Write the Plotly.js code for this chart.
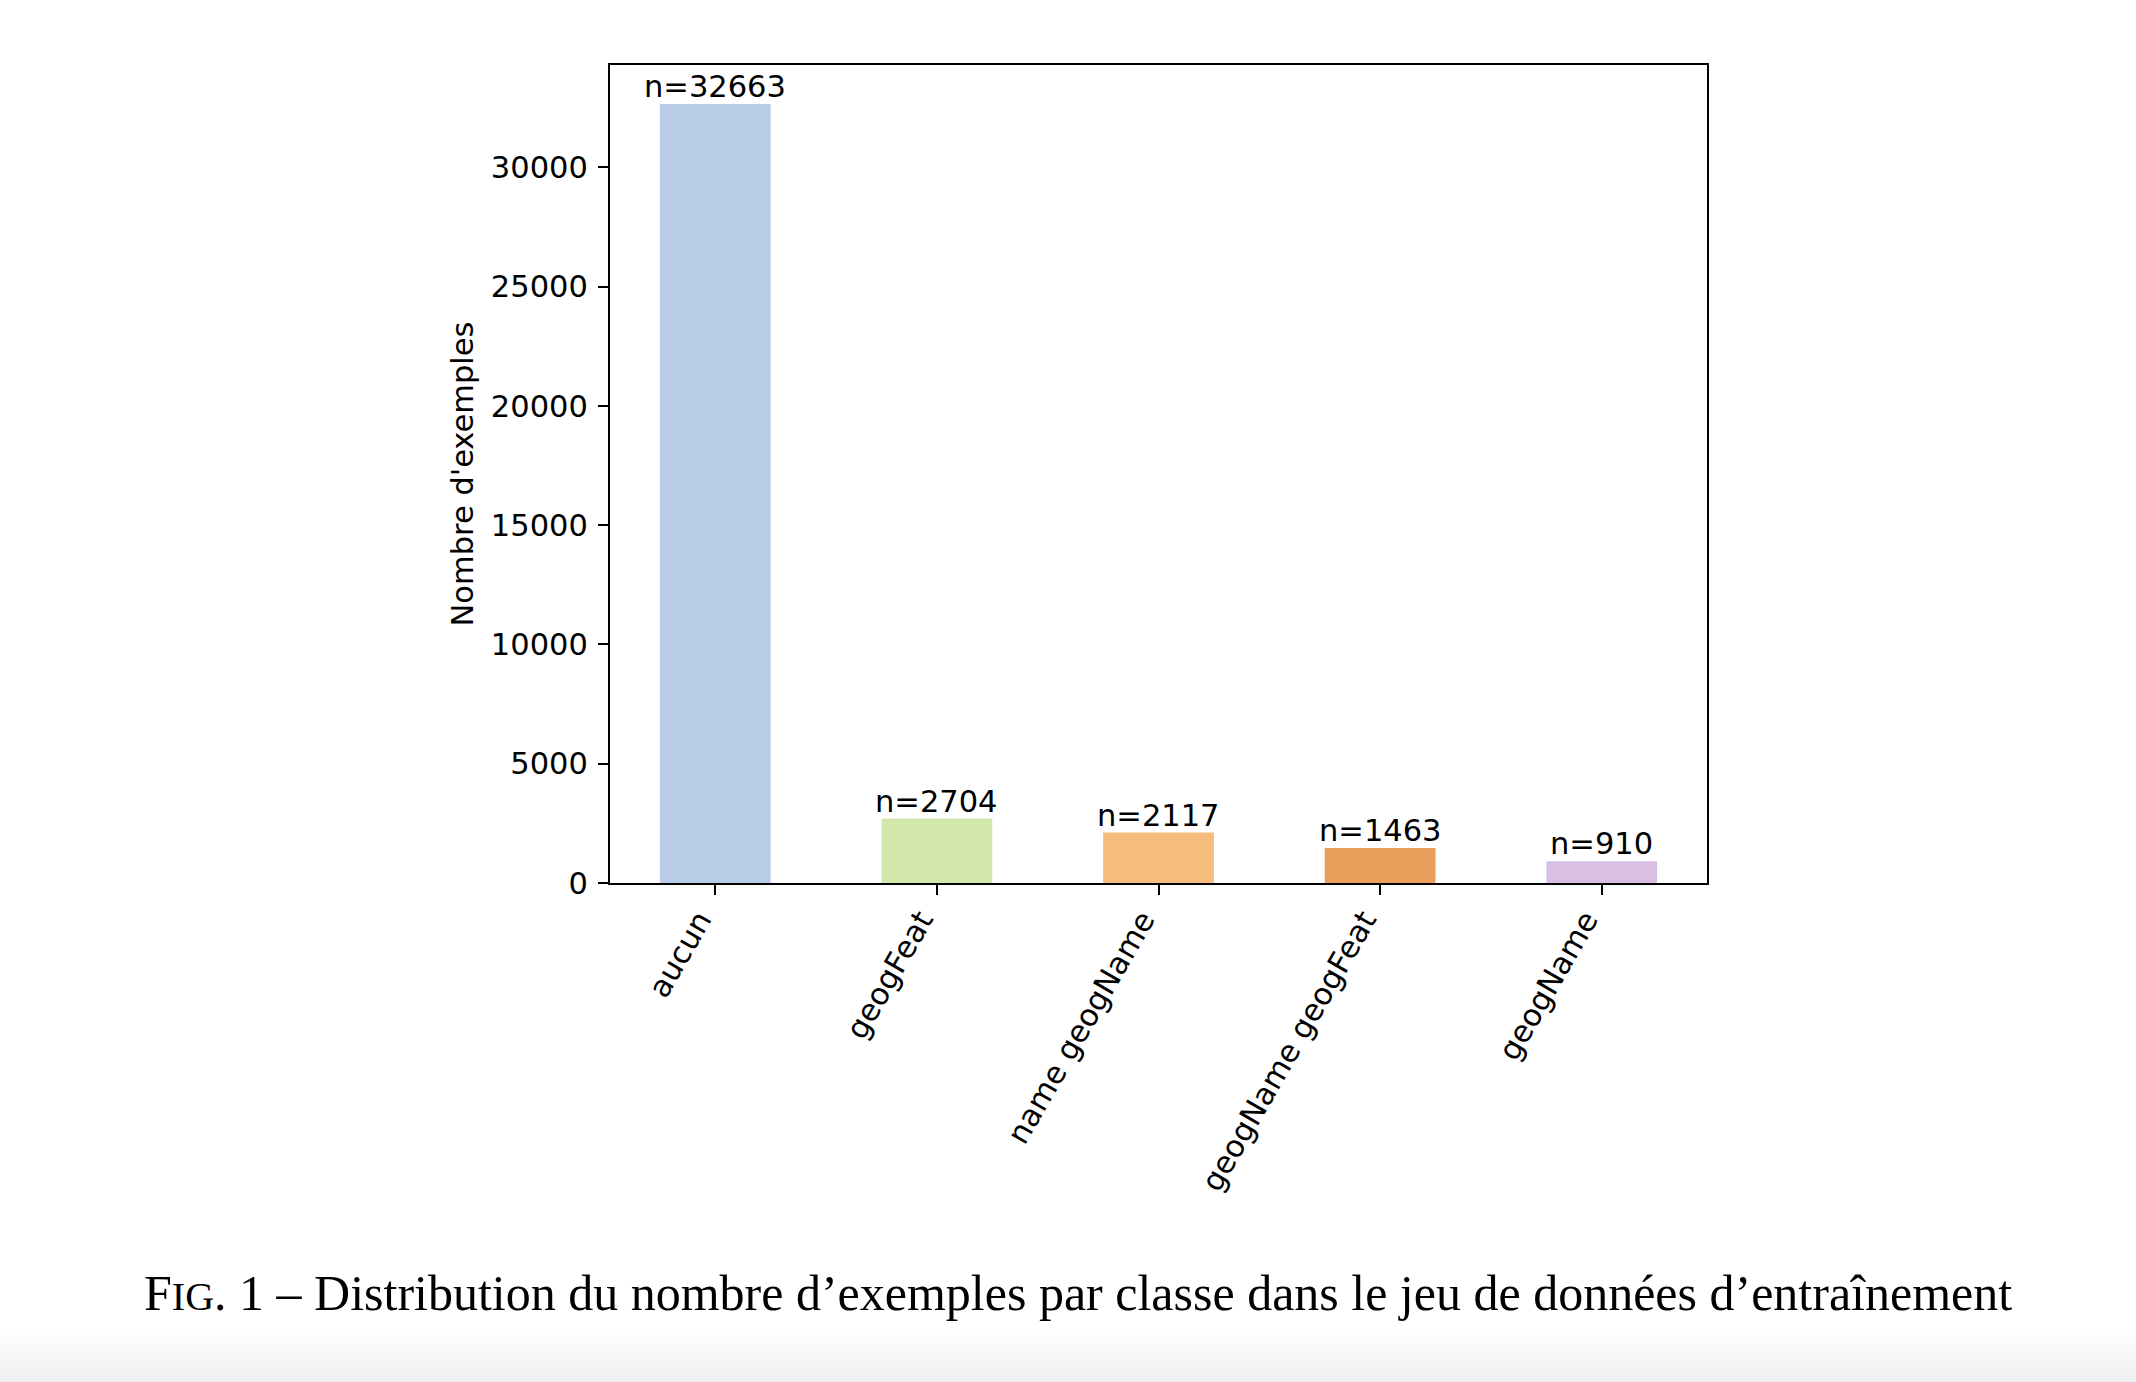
<!DOCTYPE html>
<html>
<head>
<meta charset="utf-8">
<script src="https://cdn.plot.ly/plotly-3.0.1.min.js"></script>
<style>
  html, body { margin: 0; padding: 0; }
  body { width: 2136px; height: 1382px; background: linear-gradient(to bottom, #ffffff 0px, #ffffff 1330px, #efefef 1382px); }
  #chart { width: 2136px; height: 1382px; }
</style>
</head>
<body>
<div id="chart"></div>
<script>
const categories = ["aucun", "geogFeat", "name geogName", "geogName geogFeat", "geogName"];
const counts = [32663, 2704, 2117, 1463, 910];
const barColors = ["#bacde8", "#d1e7a9", "#f6bd7f", "#e99e59", "#d9bfe4"];
const yTickValues = [0, 5000, 10000, 15000, 20000, 25000, 30000];
const yTitle = "Nombre d'exemples";
const captionText = 'F<span style="font-size:40px">IG</span>. 1 – Distribution du nombre d’exemples par classe dans le jeu de données d’entraînement';

const tickFont = { family: "DejaVu Sans", size: 30.5, color: "#000000" };

const trace = {
  type: "bar",
  x: categories,
  y: counts,
  marker: { color: barColors, line: { width: 0 } },
  hoverinfo: "x+y",
  showlegend: false
};

const labelAnnotations = categories.map((c, i) => ({
  x: c, y: counts[i], xref: "x", yref: "y",
  text: "n=" + counts[i],
  showarrow: false,
  xanchor: "center", yanchor: "bottom",
  yshift: -2,
  font: tickFont
}));

const layout = {
  width: 2136, height: 1382,
  paper_bgcolor: "rgba(0,0,0,0)",
  plot_bgcolor: "#ffffff",
  margin: { l: 610, r: 429, t: 65, b: 499, pad: 0 },
  bargap: 0.5,
  xaxis: {
    type: "category",
    range: [-0.475, 4.475],
    showline: true, linecolor: "#000000", linewidth: 2, mirror: true,
    ticks: "outside", ticklen: 10, tickwidth: 2, tickcolor: "#000000",
    tickangle: -60,
    ticklabelshift: -16,
    ticklabelstandoff: -5,
    tickfont: tickFont,
    showgrid: false, zeroline: false, fixedrange: true
  },
  yaxis: {
    range: [0, 34296],
    tickvals: yTickValues,
    tickformat: "d",
    showline: true, linecolor: "#000000", linewidth: 2, mirror: true,
    ticks: "outside", ticklen: 10, tickwidth: 2, tickcolor: "#000000",
    ticklabelstandoff: 4,
    tickfont: tickFont,
    showgrid: false, zeroline: false, fixedrange: true,
    title: { text: yTitle, font: tickFont, standoff: 8 }
  },
  annotations: labelAnnotations.concat([{
    xref: "paper", yref: "paper",
    x: (1078 - 610) / 1097, y: -(1293 - 883) / 818,
    xanchor: "center", yanchor: "middle",
    text: captionText,
    showarrow: false,
    font: { family: "Liberation Serif", size: 50, color: "#000000" }
  }])
};

Plotly.newPlot("chart", [trace], layout, { displayModeBar: false, staticPlot: true });
</script>
</body>
</html>
